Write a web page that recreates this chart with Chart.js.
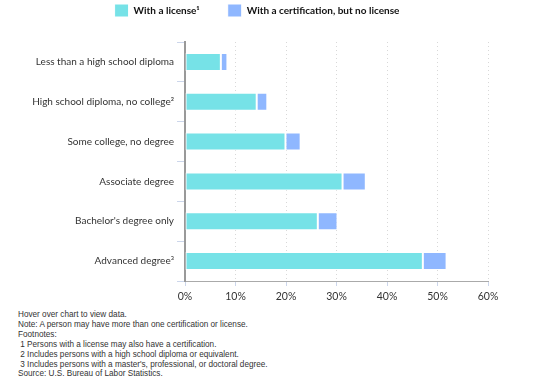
<!DOCTYPE html>
<html>
<head>
<meta charset="utf-8">
<script src="https://cdn.jsdelivr.net/npm/chart.js@4.4.1/dist/chart.umd.min.js"></script>
<style>
  html, body { margin: 0; padding: 0; background: #fff; }
  #wrap { position: relative; width: 514px; height: 305px; }
  #notes { position: absolute; left: 18px; top: 310px; font-family: "Liberation Sans", Arial, sans-serif; font-size: 8.2px; line-height: 9.9px; color: #333; white-space: pre; }
</style>
</head>
<body>
<div id="wrap"><canvas id="c" width="514" height="305"></canvas></div>
<div id="notes"></div>
<script>
const categories = [
  "Less than a high school diploma",
  "High school diploma, no college\u00B2",
  "Some college, no degree",
  "Associate degree",
  "Bachelor's degree only",
  "Advanced degree\u00B3"
];
const seriesNames = ["With a license\u00B9", "With a certification, but no license"];
const withLicense = [7.1, 14.2, 19.9, 31.2, 26.3, 47.1];
const certNoLicense = [1.3, 2.1, 3.0, 4.6, 3.9, 4.7];
const xTicks = [0, 10, 20, 30, 40, 50, 60];
const footnotes = [
  "Hover over chart to view data.",
  "Note: A person may have more than one certification or license.",
  "Footnotes:",
  " 1 Persons with a license may also have a certification.",
  " 2 Includes persons with a high school diploma or equivalent.",
  " 3 Includes persons with a master's, professional, or doctoral degree.",
  "Source: U.S. Bureau of Labor Statistics."
];

document.getElementById('notes').textContent = footnotes.join('\n');

const legendSpace = {
  id: 'legendSpace',
  afterInit(chart) {
    const lg = chart.legend;
    const orig = lg.fit;
    lg.fit = function () { orig.call(this); this.height += 15; };
  }
};

new Chart(document.getElementById('c'), {
  type: 'bar',
  data: {
    labels: categories,
    datasets: [
      { label: seriesNames[0], data: withLicense, backgroundColor: '#76E2E7', borderColor: '#ffffff', borderWidth: 1, borderSkipped: false },
      { label: seriesNames[1], data: certNoLicense, backgroundColor: '#8FB7FF', borderColor: '#ffffff', borderWidth: 1, borderSkipped: false }
    ]
  },
  options: {
    indexAxis: 'y',
    responsive: false,
    animation: false,
    layout: { padding: { top: -24, left: 26, right: 26, bottom: 0 } },
    datasets: { bar: { categoryPercentage: 0.9, barPercentage: 0.5 } },
    scales: {
      x: {
        stacked: true,
        min: 0, max: 60,
        afterBuildTicks(scale) { scale.ticks = xTicks.map(v => ({ value: v })); },
        afterFit(scale) { scale.height = 24; },
        ticks: { callback: v => v + '%', color: '#333', font: { family: 'Lato', size: 10.5 }, padding: 4 },
        grid: {
          color: (ctx) => ctx.tick && ctx.tick.value === 0 ? 'rgba(0,0,0,0)' : '#d8d8d8',
          tickColor: '#ccd6eb',
          tickLength: 5,
          lineWidth: 1
        },
        border: { display: true, color: '#aaaaaa', width: 1, dash: [1, 3] }
      },
      y: {
        stacked: true,
        afterFit(scale) { scale.width = 159; },
        ticks: { color: '#333', font: { family: 'Lato', size: 10 }, padding: 3 },
        grid: { drawOnChartArea: false, drawTicks: true, tickLength: 8, color: '#ccd6eb' },
        border: { display: true, color: '#999999', width: 2 }
      }
    },
    plugins: {
      legend: {
        position: 'top',
        labels: { boxWidth: 14, boxHeight: 13, padding: 28, color: '#111', font: { family: 'Lato', size: 10, weight: 'bold' } }
      },
      tooltip: { enabled: true }
    }
  },
  plugins: [legendSpace]
});
</script>
</body>
</html>
